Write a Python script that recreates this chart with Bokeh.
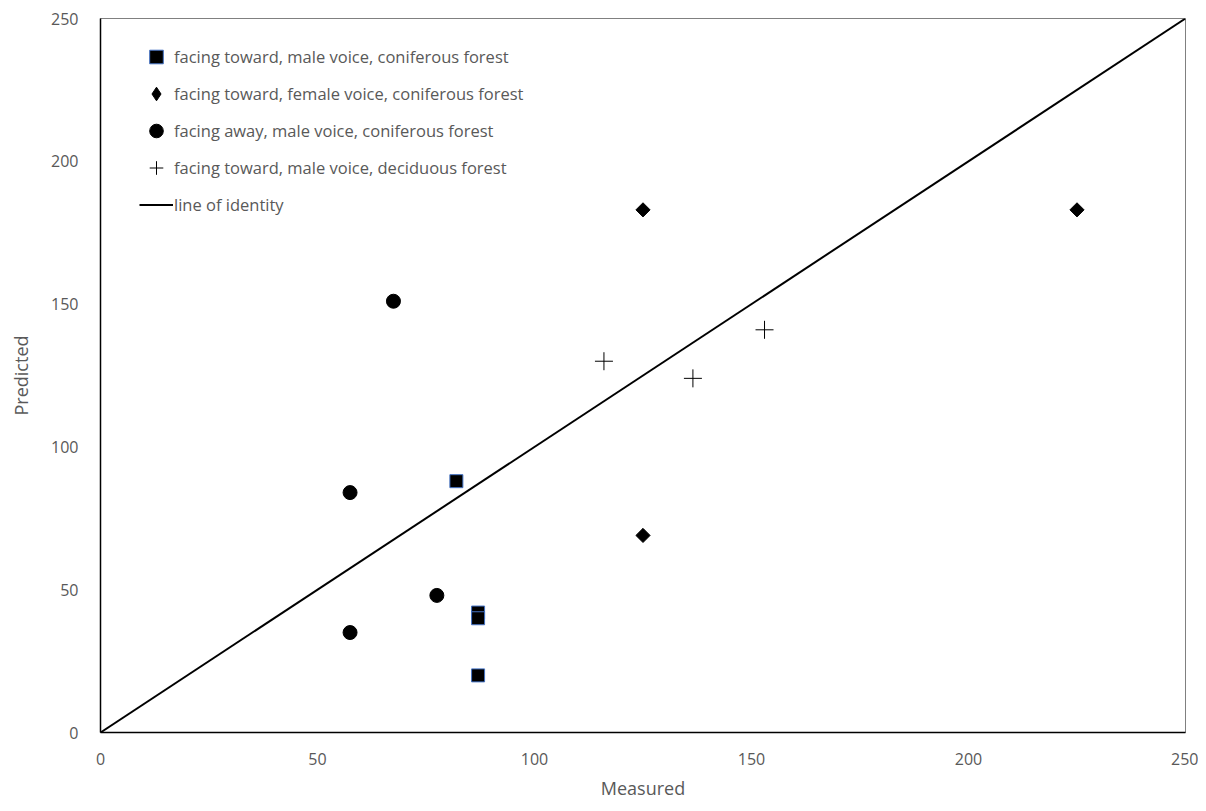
from bokeh.plotting import figure
from bokeh.models import Range1d, FixedTicker, Legend, LegendItem
from bokeh.embed import file_html
from bokeh.resources import INLINE
import math

sq_x = [82, 87, 87, 87]
sq_y = [88, 42, 40, 20]
dia_x = [125, 225, 125]
dia_y = [183, 183, 69]
circ_x = [67.5, 57.5, 57.5, 77.5]
circ_y = [151, 84, 35, 48]
plus_x = [116, 136.5, 153]
plus_y = [130, 124, 141]
line_x = [0, 250]
line_y = [0, 250]
ticks = [0, 50, 100, 150, 200, 250]
labels = ["facing toward, male voice, coniferous forest",
          "facing toward, female voice, coniferous forest",
          "facing away, male voice, coniferous forest",
          "facing toward, male voice, deciduous forest",
          "line of identity"]

FONT = "Open Sans"
GRAY = "#595959"

p = figure(width=1198, height=803, output_backend="svg", toolbar_location=None,
           x_range=Range1d(0, 250), y_range=Range1d(0, 250),
           min_border_left=100, min_border_right=13, min_border_top=18, min_border_bottom=71)

p.xgrid.visible = False
p.ygrid.visible = False
p.outline_line_color = "#808080"
p.outline_line_width = 1

for ax in (p.xaxis, p.yaxis):
    ax.ticker = FixedTicker(ticks=ticks)
    ax.major_tick_line_color = None
    ax.minor_tick_line_color = None
    ax.axis_line_color = "black"
    ax.axis_line_width = 1.5
    ax.major_label_text_color = GRAY
    ax.major_label_text_font = FONT
    ax.major_label_text_font_size = "16px"
    ax.axis_label_text_color = GRAY
    ax.axis_label_text_font = FONT
    ax.axis_label_text_font_size = "18px"
    ax.axis_label_text_font_style = "normal"

p.xaxis.axis_label = "Measured"
p.yaxis.axis_label = "Predicted"
p.xaxis.major_label_standoff = 14
p.yaxis.major_label_standoff = 16
p.xaxis.axis_label_standoff = 8
p.yaxis.axis_label_standoff = 15

ln = p.line(line_x, line_y, line_color="black", line_width=2)
r_sq = p.scatter(sq_x, sq_y, marker="square", size=13, fill_color="black",
                 line_color="#4472c4", line_width=1)
r_dia = p.scatter(dia_x, dia_y, marker="square", angle=math.pi / 4, size=10,
                  fill_color="black", line_color="black")
r_dia_leg = p.scatter([float("nan")], [float("nan")], marker="diamond",
                      fill_color="black", line_color="black")
r_circ = p.scatter(circ_x, circ_y, marker="circle", size=14, fill_color="black", line_color="black")
r_plus = p.scatter(plus_x, plus_y, marker="cross", size=18, line_color="black", line_width=1)

legend = Legend(items=[
    LegendItem(label=labels[0], renderers=[r_sq]),
    LegendItem(label=labels[1], renderers=[r_dia_leg]),
    LegendItem(label=labels[2], renderers=[r_circ]),
    LegendItem(label=labels[3], renderers=[r_plus]),
    LegendItem(label=labels[4], renderers=[ln]),
], location=(39, 509), margin=0, padding=10)
legend.border_line_color = None
legend.background_fill_alpha = 0
legend.label_text_font = FONT
legend.label_text_font_size = "16.5px"
legend.label_text_color = GRAY
legend.spacing = 0
legend.glyph_width = 34
legend.label_standoff = 1
legend.label_height = 37
legend.glyph_height = 37
p.add_layout(legend, "center")

open("out.html", "w").write(file_html(p, INLINE))
